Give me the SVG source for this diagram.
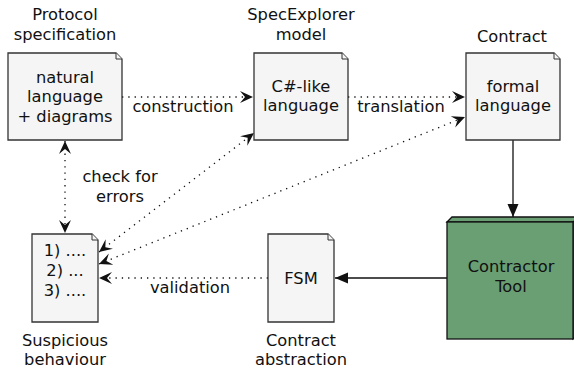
<svg xmlns="http://www.w3.org/2000/svg" width="574" height="372" viewBox="0 0 574 372">
<defs>
<style>
text{font-family:"DejaVu Sans","Liberation Sans",sans-serif;font-size:16.3px;fill:#111;text-anchor:middle}
.doc{fill:#f5f5f5;stroke:#333;stroke-width:1.3}
.fold{fill:#f5f5f5;stroke:#333;stroke-width:1}
.dot{fill:none;stroke:#111;stroke-width:1.3;stroke-dasharray:1.3 5}
.solid{fill:none;stroke:#111;stroke-width:1.3}
.tool{fill:#699f73;stroke:#111;stroke-width:1.3}
</style>
<marker id="vee" viewBox="-14 -7 15 14" refX="0" refY="0" markerWidth="15" markerHeight="14" markerUnits="userSpaceOnUse" orient="auto-start-reverse">
<path d="M0,0 L-13,-6 L-8,0 L-13,6 Z" fill="#111"/>
</marker>
<marker id="tri" viewBox="-14 -7 15 14" refX="0" refY="0" markerWidth="15" markerHeight="14" markerUnits="userSpaceOnUse" orient="auto">
<path d="M0,0 L-13,-5.5 L-13,5.5 Z" fill="#111"/>
</marker>
</defs>
<g id="connectors">
<line class="dot" x1="122" y1="97" x2="253" y2="97" marker-end="url(#vee)"/>
<line class="dot" x1="348" y1="97" x2="465" y2="97" marker-end="url(#vee)"/>
<line class="dot" x1="65" y1="141" x2="65" y2="233" marker-start="url(#vee)" marker-end="url(#vee)"/>
<line class="dot" x1="99" y1="252" x2="254" y2="133" marker-start="url(#vee)" marker-end="url(#vee)"/>
<line class="dot" x1="99" y1="264" x2="465" y2="117" marker-start="url(#vee)" marker-end="url(#vee)"/>
<line class="dot" x1="268" y1="278" x2="99" y2="278" marker-end="url(#vee)"/>
<line class="solid" x1="513" y1="140" x2="513" y2="217" marker-end="url(#tri)"/>
<line class="solid" x1="447" y1="278" x2="335" y2="278" marker-end="url(#tri)"/>
<text x="183" y="112">construction</text>
<text x="401" y="112">translation</text>
<text x="120" y="182">check for</text>
<text x="120" y="202">errors</text>
<text x="190" y="293">validation</text>
</g>
<g id="protocol">
<text x="65" y="20">Protocol</text>
<text x="65" y="40">specification</text>
<path class="doc" d="M8,53 H116 L122,59 V140 H8 Z"/>
<path class="fold" d="M116,53 V59 H122"/>
<text x="65" y="83">natural</text>
<text x="65" y="102">language</text>
<text x="65" y="122">+ diagrams</text>
</g>
<g id="specexplorer">
<text x="301" y="20">SpecExplorer</text>
<text x="301" y="40">model</text>
<path class="doc" d="M254,53 H342 L348,59 V140 H254 Z"/>
<path class="fold" d="M342,53 V59 H348"/>
<text x="301" y="92">C#-like</text>
<text x="301" y="111">language</text>
</g>
<g id="contract">
<text x="512" y="42">Contract</text>
<path class="doc" d="M466,53 H554 L560,59 V140 H466 Z"/>
<path class="fold" d="M554,53 V59 H560"/>
<text x="513" y="92">formal</text>
<text x="513" y="111">language</text>
</g>
<g id="contractor-tool">
<polygon class="tool" points="447,222 452,217 580,217 573,222"/>
<polygon class="tool" points="573,222 580,217 580,334 573,339"/>
<rect class="tool" x="447" y="222" width="126" height="117"/>
<text x="511" y="272">Contractor</text>
<text x="511" y="292">Tool</text>
</g>
<g id="fsm">
<path class="doc" d="M268,234 H328 L334,240 V322 H268 Z"/>
<path class="fold" d="M328,234 V240 H334"/>
<text x="301" y="284">FSM</text>
<text x="301" y="346">Contract</text>
<text x="301" y="365">abstraction</text>
</g>
<g id="suspicious">
<path class="doc" d="M32,234 H92 L98,240 V322 H32 Z"/>
<path class="fold" d="M92,234 V240 H98"/>
<text x="65" y="256">1) ....</text>
<text x="65" y="276">2) ...</text>
<text x="65" y="296">3) ....</text>
<text x="65" y="346">Suspicious</text>
<text x="65" y="365">behaviour</text>
</g>
</svg>
